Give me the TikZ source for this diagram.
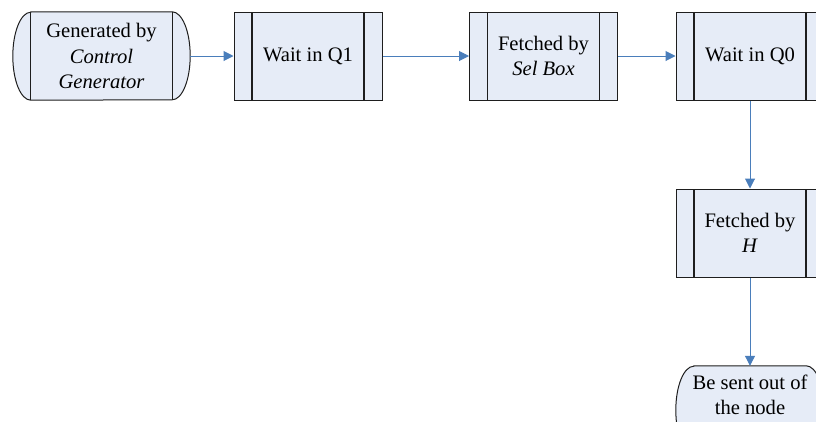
\documentclass[tikz,border=0pt]{standalone}
\usepackage{fontspec}
\newfontfamily\flowserif{Liberation Serif}
\usetikzlibrary{arrows.meta,positioning,calc}
\definecolor{boxfill}{RGB}{230,236,247}
\definecolor{flowblue}{RGB}{74,126,187}
\definecolor{edge}{RGB}{30,30,30}
\tikzset{
  txt/.style={align=center,font=\flowserif\fontsize{20.6}{25.4}\selectfont,inner sep=0pt},
  procbox/.style={draw=edge,fill=boxfill,line width=1pt,minimum width=148pt,
    minimum height=88pt,txt,
    path picture={
      \draw[edge,line width=1.1pt]
        ([xshift=18pt]path picture bounding box.north west) --
        ([xshift=18pt]path picture bounding box.south west)
        ([xshift=-18pt]path picture bounding box.north east) --
        ([xshift=-18pt]path picture bounding box.south east);}},
  termframe/.style={draw=none,minimum height=88pt,inner sep=0pt},
  termline/.style={draw=edge,fill=boxfill,line width=1pt},
  flow/.style={draw=flowblue,line width=1pt,-{Triangle[length=10pt,width=10pt]}}
}
\begin{document}
\begin{tikzpicture}[x=1pt,y=-1pt]
\clip (0,0) rectangle (816,421);
\fill[white] (0,0) rectangle (816,421);

% start terminator with inner bars
\node[termframe,minimum width=177pt] (gen) at (101.5,56) {};
\draw[termline]
  ([xshift=18pt]gen.north west) -- ([xshift=-18pt]gen.north east)
  arc[start angle=90,end angle=-90,x radius=18pt,y radius=44pt]
  -- ([xshift=18pt]gen.south west)
  arc[start angle=270,end angle=90,x radius=18pt,y radius=44pt] -- cycle;
\draw[edge,line width=1.1pt]
  ([xshift=18pt]gen.north west) -- ([xshift=18pt]gen.south west)
  ([xshift=-18pt]gen.north east) -- ([xshift=-18pt]gen.south east);
\node[txt] (gentext) at (gen.center) {Generated by\\\textit{Control}\\\textit{Generator}};

% process boxes
\node[procbox] (q1) at (308,56) {Wait in Q1};
\node[procbox] (sel) at (543.5,56) {Fetched by\\\textit{Sel Box}};
\node[procbox] (q0) at (750,56) {Wait in Q0};
\node[procbox] (h) at (750,233) {Fetched by\\\textit{H}};

% end terminator
\node[termframe,minimum width=148pt] (out) at (750,410) {};
\draw[termline]
  ([xshift=18pt]out.north west) -- ([xshift=-18pt]out.north east)
  arc[start angle=90,end angle=-90,x radius=18pt,y radius=44pt]
  -- ([xshift=18pt]out.south west)
  arc[start angle=270,end angle=90,x radius=18pt,y radius=44pt] -- cycle;
\node[txt] (outtext) at (750,395) {Be sent out of\\the node};

% connectors
\draw[flow] (gen.east) -- (q1.west);
\draw[flow] (q1.east) -- (sel.west);
\draw[flow] (sel.east) -- (q0.west);
\draw[flow] (q0.south) -- (h.north);
\draw[flow] (h.south) -- (out.north);
\end{tikzpicture}
\end{document}
